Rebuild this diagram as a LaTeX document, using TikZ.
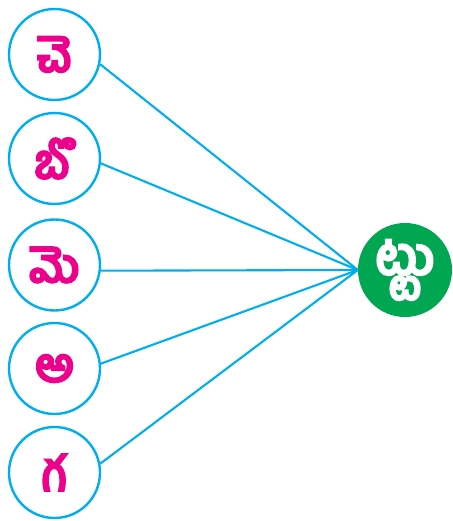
\documentclass[tikz,border=0pt]{standalone}
\usepackage{fontspec}
\newfontfamily\telugu[Script=Telugu,FakeBold=6]{Hind Guntur}
\definecolor{lineblue}{HTML}{00AEEF}
\definecolor{lettermag}{HTML}{EC008C}
\definecolor{rootgreen}{HTML}{00A651}
\begin{document}
\begin{tikzpicture}[x=1pt,y=-1pt,
  leaf/.style={circle,draw=lineblue,line width=2.4pt,minimum size=91pt,inner sep=0pt,
    text=lettermag,font=\telugu\fontsize{47}{47}\selectfont},
  rootnode/.style={circle,fill=rootgreen,minimum size=94pt,inner sep=0pt,
    text=white,font=\telugu\fontsize{52}{52}\selectfont},
  conn/.style={draw=lineblue,line width=2.1pt}]
\useasboundingbox (0,0) rectangle (452,521);
\node[leaf] (c1) at (54.5,54.5) {చె};
\node[leaf] (c2) at (54.5,158.5) {బొ};
\node[leaf] (c3) at (54.5,265) {మె};
\node[leaf] (c4) at (54.5,368.5) {అ};
\node[leaf] (c5) at (54.5,472.5) {గ};
\node[rootnode] (t) at (405,270) {ట్టు};
\draw[conn] (c1.-12) -- (t.west);
\draw[conn] (c2.-6) -- (t.west);
\draw[conn] (c3.-7) -- (t.west);
\draw[conn] (c4.6) -- (t.west);
\draw[conn] (c5.11) -- (t.west);
\end{tikzpicture}
\end{document}
